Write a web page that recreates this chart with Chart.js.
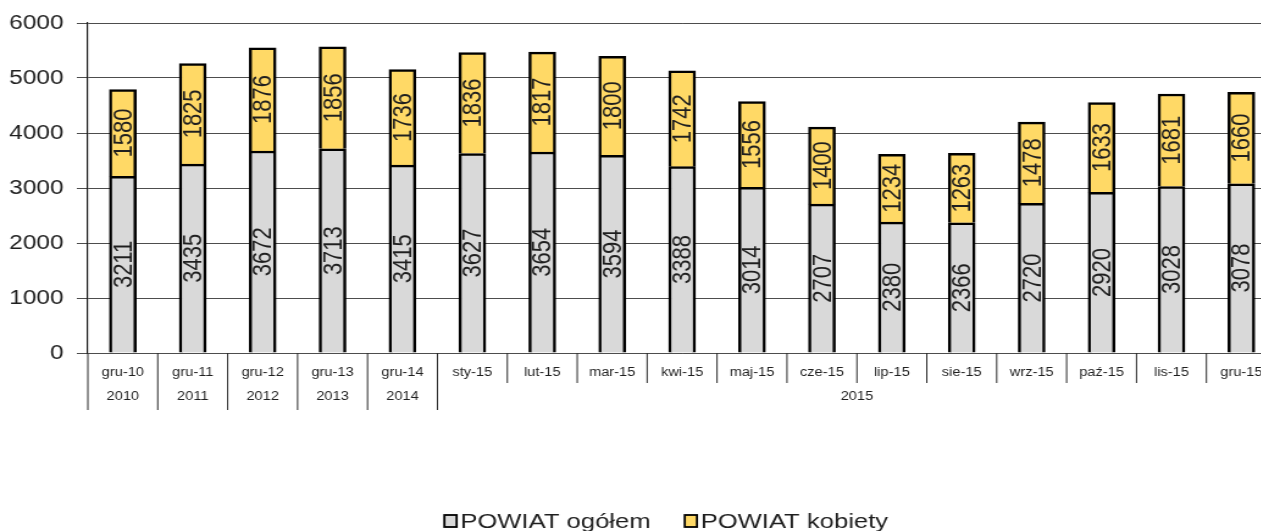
<!DOCTYPE html>
<html>
<head>
<meta charset="utf-8">
<script src="https://cdn.jsdelivr.net/npm/chart.js@4"></script>
<style>
html, body { margin: 0; padding: 0; background: #fff; overflow: hidden; }
#wrap { width: 1261px; height: 531px; overflow: hidden; position: relative; }
</style>
</head>
<body>
<div id="wrap">
  <canvas id="myChart" width="1049" height="542" style="width:1280px;height:542px;position:absolute;left:0;top:0"></canvas>
</div>
<script>
var categories = ['gru-10', 'gru-11', 'gru-12', 'gru-13', 'gru-14', 'sty-15', 'lut-15', 'mar-15', 'kwi-15',
                  'maj-15', 'cze-15', 'lip-15', 'sie-15', 'wrz-15', 'paź-15', 'lis-15', 'gru-15'];
var ogolem = [3211, 3435, 3672, 3713, 3415, 3627, 3654, 3594, 3388, 3014, 2707, 2380, 2366, 2720, 2920, 3028, 3078];
var kobiety = [1580, 1825, 1876, 1856, 1736, 1836, 1817, 1800, 1742, 1556, 1400, 1234, 1263, 1478, 1633, 1681, 1660];
var yTicks = [0, 1000, 2000, 3000, 4000, 5000, 6000];

var FONT = 'Arial, "Liberation Sans", sans-serif';
var TEXT = '#1f1f1f';

// year of each category, taken from the label suffix
var years = categories.map(function (c) { return '20' + c.split('-')[1]; });

var extras = {
    id: 'extras',
    afterDatasetsDraw: function (chart) {
        var ctx = chart.ctx;
        ctx.save();
        ctx.font = '22px ' + FONT;
        ctx.fillStyle = TEXT;
        ctx.textAlign = 'center';
        ctx.textBaseline = 'middle';
        chart.data.datasets.forEach(function (ds, i) {
            chart.getDatasetMeta(i).data.forEach(function (bar, j) {
                var p = bar.getProps(['x', 'y', 'base'], true);
                ctx.save();
                ctx.translate(p.x, (p.y + p.base) / 2);
                ctx.rotate(-Math.PI / 2);
                ctx.fillText(String(ds.data[j]), 0, 1);
                ctx.restore();
            });
        });
        ctx.restore();
    },
    afterDraw: function (chart) {
        var ctx = chart.ctx;
        var xs = chart.scales.x;
        var half = (xs.getPixelForValue(1) - xs.getPixelForValue(0)) / 2;
        var bottom = chart.chartArea.bottom;
        var n = categories.length;
        ctx.save();
        ctx.strokeStyle = '#2a2a2a';
        ctx.lineWidth = 1;
        for (var k = 0; k <= n; k++) {
            var edge = k < n ? xs.getPixelForValue(k) - half : xs.getPixelForValue(n - 1) + half;
            var isGroup = k === 0 || k === n || years[k - 1] !== years[k];
            ctx.beginPath();
            ctx.moveTo(edge, bottom);
            ctx.lineTo(edge, bottom + (isGroup ? 57 : 30));
            ctx.stroke();
        }
        // year labels
        ctx.font = '12px ' + FONT;
        ctx.fillStyle = TEXT;
        ctx.textAlign = 'center';
        ctx.textBaseline = 'middle';
        var start = 0;
        for (var i = 1; i <= n; i++) {
            if (i === n || years[i] !== years[start]) {
                var mid = (xs.getPixelForValue(start) + xs.getPixelForValue(i - 1)) / 2;
                ctx.fillText(years[start], mid, bottom + 44);
                start = i;
            }
        }

        // legend, box right next to the text like in the original
        ctx.font = '21px ' + FONT;
        ctx.textAlign = 'left';
        var items = chart.data.datasets.map(function (ds) {
            return { text: ds.label, color: ds.backgroundColor, w: 13 + ctx.measureText(ds.label).width };
        });
        var gap = 28;
        var total = items.reduce(function (s, it) { return s + it.w; }, 0) + gap * (items.length - 1);
        var lx = 546 - total / 2;
        var ly = 521;
        items.forEach(function (it) {
            ctx.fillStyle = it.color;
            ctx.fillRect(lx, ly - 6, 10, 12);
            ctx.strokeStyle = '#000';
            ctx.lineWidth = 1.8;
            ctx.strokeRect(lx, ly - 6, 10, 12);
            ctx.fillStyle = TEXT;
            ctx.fillText(it.text, lx + 13, ly + 1);
            lx += it.w + gap;
        });
        ctx.restore();
    }
};

new Chart('myChart', {
    type: 'bar',
    data: {
        labels: categories,
        datasets: [
            {
                label: 'POWIAT ogółem',
                data: ogolem,
                backgroundColor: '#d9d9d9',
                borderColor: '#000',
                borderWidth: 2.5,
                barThickness: 22
            },
            {
                label: 'POWIAT kobiety',
                data: kobiety,
                backgroundColor: '#ffd966',
                borderColor: '#000',
                borderWidth: 2.5,
                barThickness: 22
            }
        ]
    },
    options: {
        responsive: false,
        animation: false,
        devicePixelRatio: 1,
        layout: { padding: { top: 10, right: 3, left: 0, bottom: 0 } },
        scales: {
            x: {
                stacked: true,
                grid: { display: false },
                border: { display: false },
                ticks: {
                    autoSkip: false,
                    maxRotation: 0,
                    padding: 4,
                    color: TEXT,
                    font: { family: FONT, size: 12 }
                },
                afterFit: function (scale) { scale.height = 189; }
            },
            y: {
                stacked: true,
                min: 0,
                max: 6000,
                afterBuildTicks: function (scale) {
                    scale.ticks = yTicks.map(function (v) { return { value: v }; });
                },
                grid: { color: '#4d4d4d', lineWidth: 1, tickLength: 9 },
                border: { display: true, color: '#1a1a1a', width: 1.2 },
                ticks: {
                    padding: 11,
                    color: TEXT,
                    font: { family: FONT, size: 20 },
                    callback: function (v) { return String(v); }
                },
                afterFit: function (scale) { scale.width = 72; }
            }
        },
        plugins: {
            legend: { display: false },
            tooltip: { enabled: false }
        }
    },
    plugins: [extras]
});
</script>
</body>
</html>
